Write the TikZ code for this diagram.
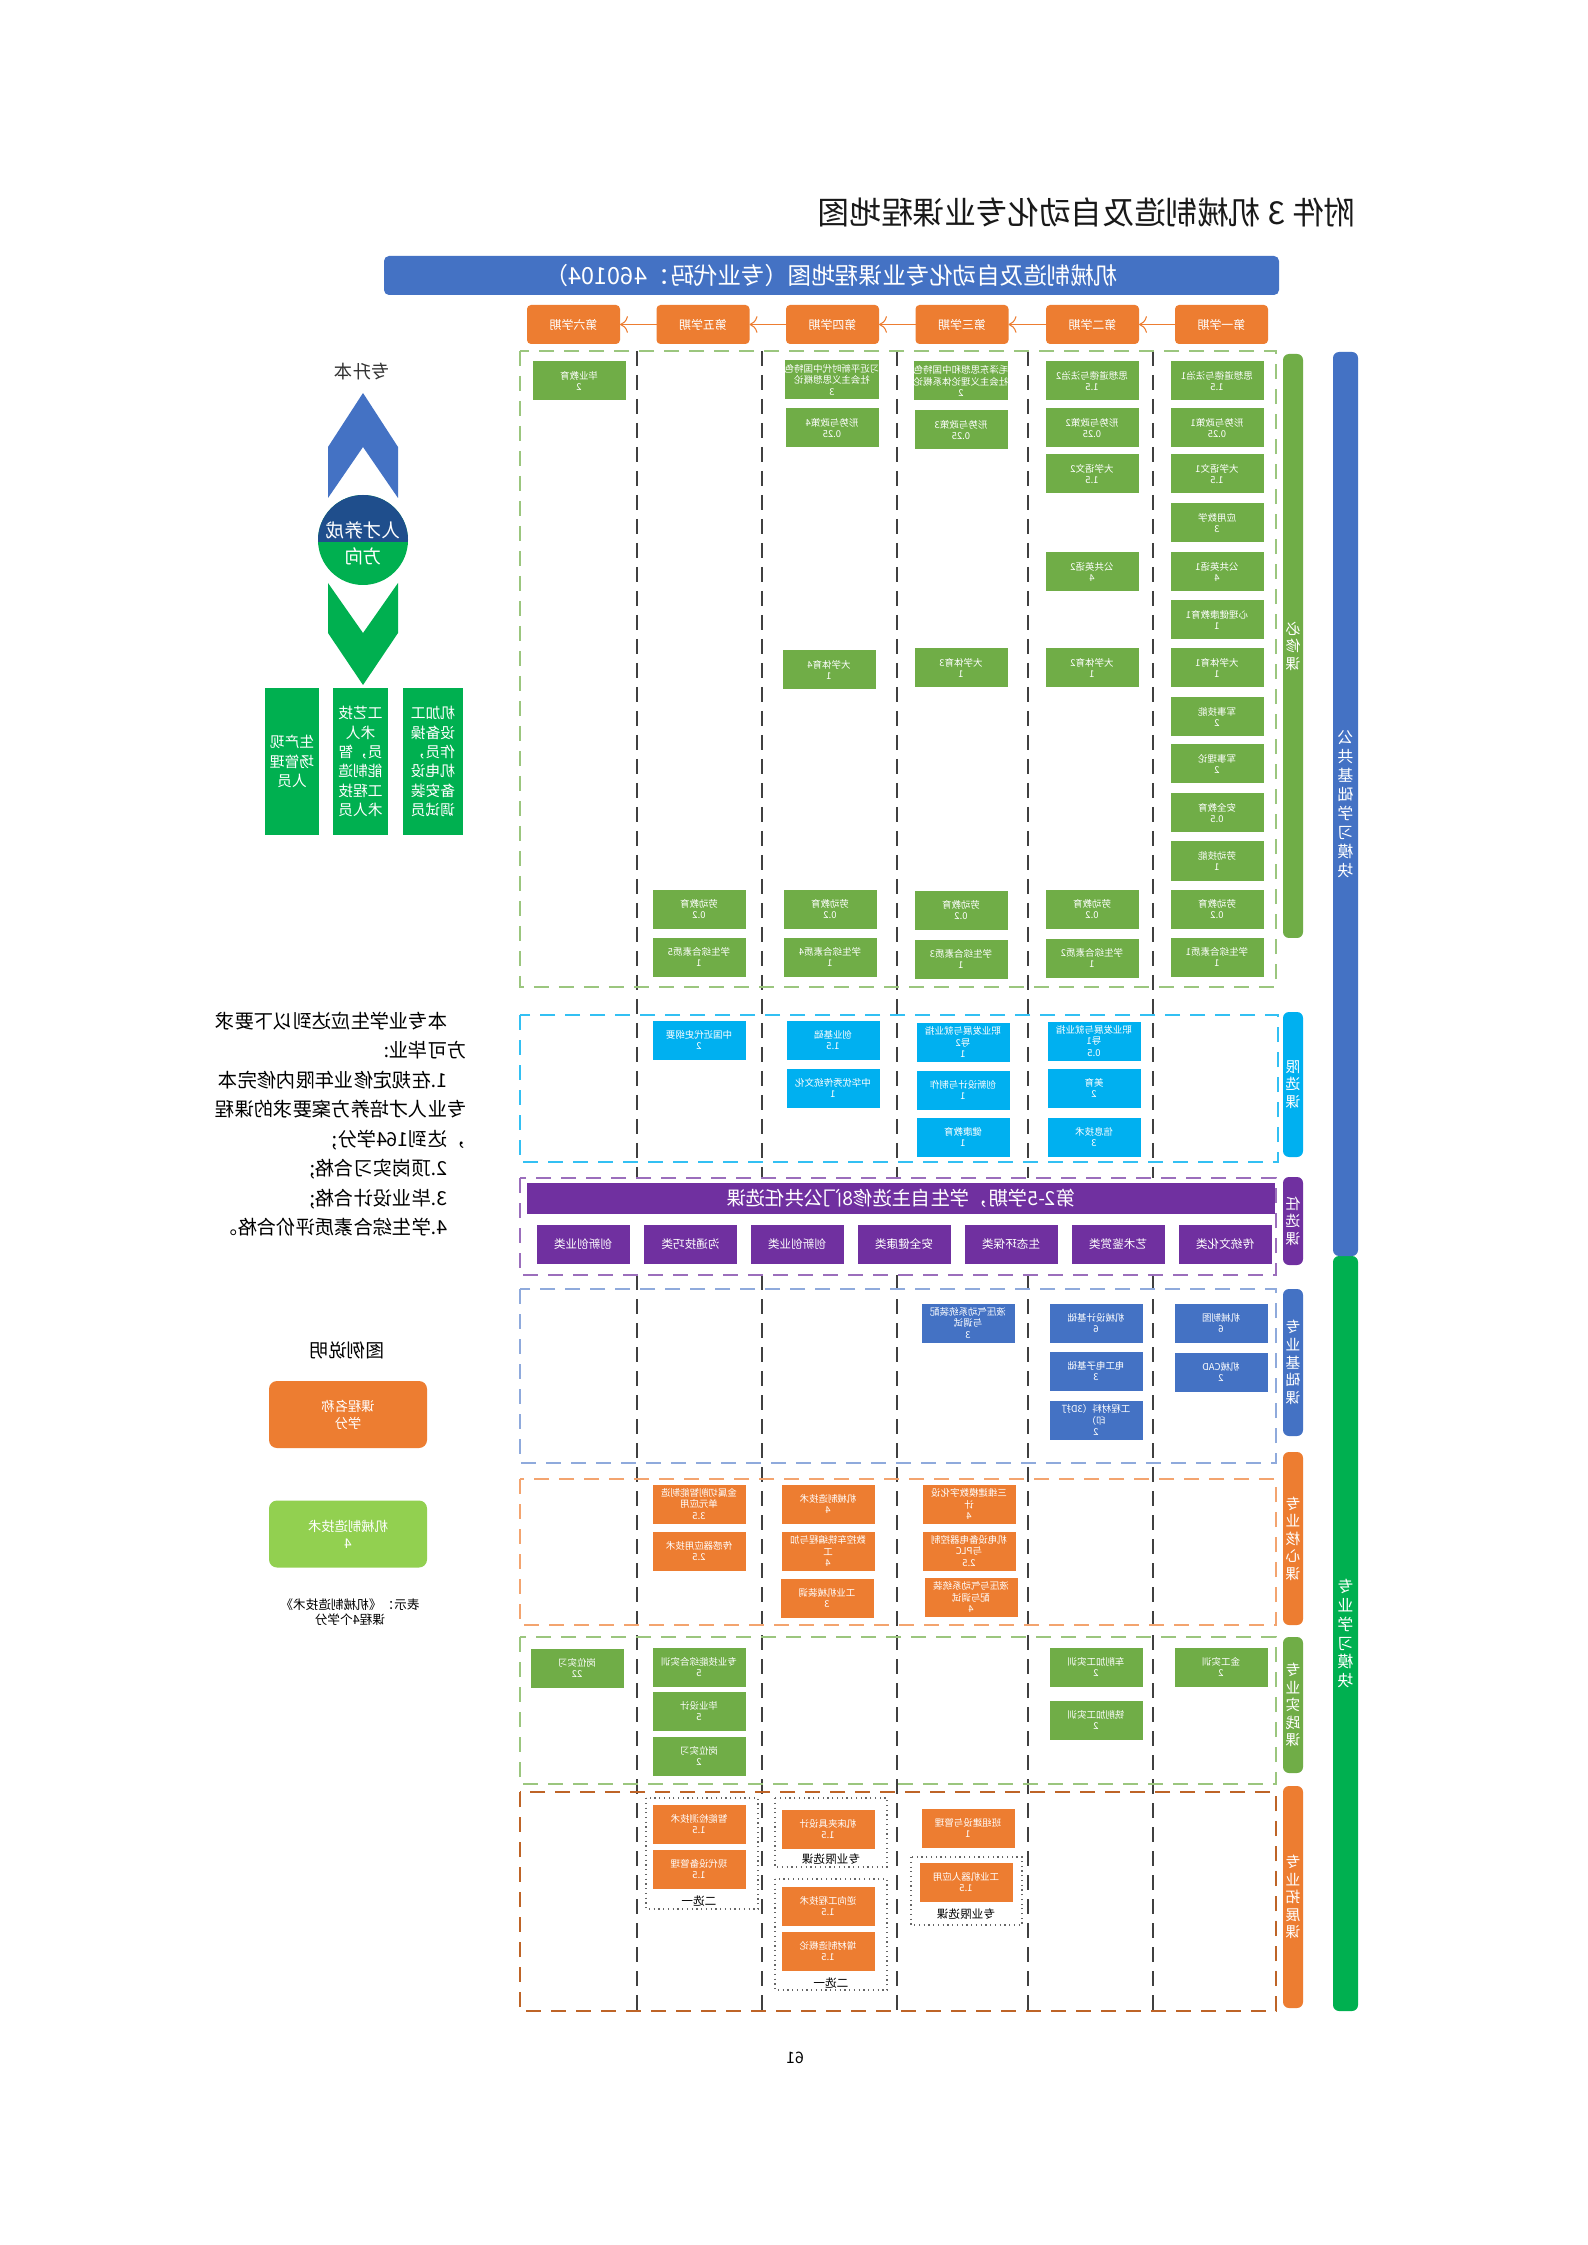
\documentclass[tikz,border=0pt]{standalone}
\usepackage{fontspec}
\setmainfont{Noto Sans CJK SC}
\usetikzlibrary{arrows.meta}

\definecolor{cgreen}{HTML}{70AD47}
\definecolor{lgreen}{HTML}{92D050}
\definecolor{mgreen}{HTML}{00B050}
\definecolor{ccyan}{HTML}{00B0F0}
\definecolor{cpurple}{HTML}{7030A0}
\definecolor{cblue}{HTML}{4472C4}
\definecolor{corange}{HTML}{ED7D31}
\definecolor{cnavy}{HTML}{1F4E8C}

\tikzset{
  every node/.style={xscale=-1, inner sep=0pt, outer sep=0pt},
  crs/.style={rectangle, minimum width=9.3mm, minimum height=3.9mm, align=center,
              text=white, font=\fontsize{2.7}{3.2}\selectfont},
  gcrs/.style={crs, fill=cgreen},
  ccrs/.style={crs, fill=ccyan},
  bcrs/.style={crs, fill=cblue},
  ocrs/.style={crs, fill=corange},
  pcrs/.style={crs, fill=cpurple, font=\fontsize{3.3}{4}\selectfont},
  term/.style={rectangle, rounded corners=0.4mm, fill=corange, text=white,
               minimum width=9.3mm, minimum height=3.9mm, font=\fontsize{3.4}{4}\selectfont},
  sidebar/.style={rectangle, rounded corners=0.6mm, minimum width=2mm, text=white,
                  align=center, font=\fontsize{4.2}{5}\selectfont},
  modbar/.style={rectangle, rounded corners=0.6mm, minimum width=2.5mm, text=white,
                 align=center, font=\fontsize{4.5}{5.4}\selectfont},
  secbox/.style={dash pattern=on 1.5mm off 1mm, line width=0.5pt},
  coldiv/.style={dash pattern=on 1.5mm off 0.9mm, line width=0.4pt, black!75},
  grpbox/.style={densely dotted, line width=0.35pt, black!60},
  grplbl/.style={font=\fontsize{3.3}{4}\selectfont, text=black},
  termarr/.style={->, corange, line width=0.3pt},
  pathbox/.style={rectangle, fill=mgreen, text=white, align=center,
                  minimum height=14.7mm, font=\fontsize{4.2}{5.5}\selectfont},
  legbox/.style={rectangle, rounded corners=0.8mm, minimum width=15.8mm, minimum height=6.7mm,
                 text=white, align=center, font=\fontsize{3.8}{4.8}\selectfont},
}

\begin{document}
\begin{tikzpicture}[x=0.1mm, y=-0.1mm]

    \fill[white] (0,0) rectangle (1587,2245);
    \useasboundingbox (0,0) rectangle (1587,2245);

    % Title 
    % -----
    \node[font=\fontsize{9}{11}\selectfont, text=black!90] (title) at (1087,212) {附件 3 机械制造及自动化专业课程地图};
    \node[rectangle, rounded corners=0.5mm, fill=cblue, text=white, minimum width=89.5mm, minimum height=3.9mm,
          font=\fontsize{6.7}{8}\selectfont] (banner) at (831.5,275.5) {机械制造及自动化专业课程地图（专业代码：460104）};

    % Terms 
    % -----
    \node[term] (s1) at (1221.5,324.5) {第一学期};
    \node[term] (s2) at (1092.5,324.5) {第二学期};
    \node[term] (s3) at ( 962  ,324.5) {第三学期};
    \node[term] (s4) at ( 832.5,324.5) {第四学期};
    \node[term] (s5) at ( 703  ,324.5) {第五学期};
    \node[term] (s6) at ( 573.5,324.5) {第六学期};

    \draw[termarr] (s1.east) -- (s2.west);
    \draw[termarr] (s2.east) -- (s3.west);
    \draw[termarr] (s3.east) -- (s4.west);
    \draw[termarr] (s4.east) -- (s5.west);
    \draw[termarr] (s5.east) -- (s6.west);

    % Grid 
    % ----
    \draw[coldiv] ( 637, 351) -- ( 637,1178);
    \draw[coldiv] ( 762, 351) -- ( 762,1178);
    \draw[coldiv] ( 897, 351) -- ( 897,1178);
    \draw[coldiv] (1028, 351) -- (1028,1178);
    \draw[coldiv] (1153, 351) -- (1153,1178);
    \draw[coldiv] ( 637,1275) -- ( 637,2011);
    \draw[coldiv] ( 762,1275) -- ( 762,2011);
    \draw[coldiv] ( 897,1275) -- ( 897,2011);
    \draw[coldiv] (1028,1275) -- (1028,2011);
    \draw[coldiv] (1153,1275) -- (1153,2011);

    \draw[secbox, cgreen!70]         (520, 351) rectangle (1276, 987);
    \draw[secbox, ccyan!80]          (520,1015) rectangle (1278,1162);
    \draw[secbox, cpurple!70]        (520,1178) rectangle (1276,1275);
    \draw[secbox, cblue!60]          (520,1289) rectangle (1276,1463);
    \draw[secbox, corange!70]        (520,1479) rectangle (1276,1625);
    \draw[secbox, cgreen!70]         (520,1637) rectangle (1276,1784);
    \draw[secbox, corange!80!black]  (520,1792) rectangle (1276,2011);

    % Side bars 
    % ---------
    \node[sidebar, fill=cgreen,  minimum height=58.4mm] (bxk) at (1293, 646)   {必\\修\\课};
    \node[sidebar, fill=ccyan,   minimum height=14.5mm] (xxk) at (1293,1084.5) {限\\选\\课};
    \node[sidebar, fill=cpurple, minimum height=8.8mm]  (rxk) at (1293,1221)   {任\\选\\课};
    \node[sidebar, fill=cblue,   minimum height=14.7mm] (jck) at (1293,1362.5) {专\\业\\基\\础\\课};
    \node[sidebar, fill=corange, minimum height=17.3mm] (hxk) at (1293,1538.5) {专\\业\\核\\心\\课};
    \node[sidebar, fill=cgreen,  minimum height=13.6mm] (sjk) at (1293,1705)   {专\\业\\实\\践\\课};
    \node[sidebar, fill=corange, minimum height=22.2mm] (tzk) at (1293,1897)   {专\\业\\拓\\展\\课};

    \node[modbar, fill=mgreen, minimum height=75.5mm] (zym) at (1345.5,1633.5) {专\\业\\学\\习\\模\\块};
    \node[modbar, fill=cblue,  minimum height=90.4mm] (ggm) at (1345.5, 804)   {公\\共\\基\\础\\学\\习\\模\\块};

    % Required courses 
    % ----------------
    \node[gcrs] (g1a) at (1217, 381) {思想道德与法治1\\1.5};
    \node[gcrs] (g1b) at (1217, 428) {形势与政策1\\0.25};
    \node[gcrs] (g1c) at (1217, 474) {大学语文1\\1.5};
    \node[gcrs] (g1d) at (1217, 523) {应用数学\\3};
    \node[gcrs] (g1e) at (1217, 572) {公共英语1\\4};
    \node[gcrs] (g1f) at (1217, 620) {心理健康教育1\\1};
    \node[gcrs] (g1g) at (1217, 668) {大学体育1\\1};
    \node[gcrs] (g1h) at (1217, 717) {军事技能\\2};
    \node[gcrs] (g1i) at (1217, 764) {军事理论\\2};
    \node[gcrs] (g1j) at (1217, 813) {安全教育\\0.5};
    \node[gcrs] (g1k) at (1217, 861) {劳动技能\\1};
    \node[gcrs] (g1l) at (1217, 909) {劳动教育\\0.2};
    \node[gcrs] (g1m) at (1217, 957) {学生综合素质1\\1};

    \node[gcrs] (g2a) at (1092, 381) {思想道德与法治2\\1.5};
    \node[gcrs] (g2b) at (1092, 428) {形势与政策2\\0.25};
    \node[gcrs] (g2c) at (1092, 474) {大学语文2\\1.5};
    \node[gcrs] (g2e) at (1092, 572) {公共英语2\\4};
    \node[gcrs] (g2g) at (1092, 668) {大学体育2\\1};
    \node[gcrs] (g2l) at (1092, 909) {劳动教育\\0.2};
    \node[gcrs] (g2m) at (1092, 958) {学生综合素质2\\1};

    \node[gcrs] (g3a) at ( 961, 381) {毛泽东思想和中国特色\\社会主义理论体系概论\\2};
    \node[gcrs] (g3b) at ( 961, 430) {形势与政策3\\0.25};
    \node[gcrs] (g3g) at ( 961, 668) {大学体育3\\1};
    \node[gcrs] (g3l) at ( 961, 910) {劳动教育\\0.2};
    \node[gcrs] (g3m) at ( 961, 959) {学生综合素质3\\1};

    \node[gcrs] (g4a) at ( 832, 380) {习近平新时代中国特色\\社会主义思想概论\\3};
    \node[gcrs] (g4b) at ( 832, 428) {形势与政策4\\0.25};
    \node[gcrs] (g4g) at ( 829, 670) {大学体育4\\1};
    \node[gcrs] (g4l) at ( 830, 909) {劳动教育\\0.2};
    \node[gcrs] (g4m) at ( 830, 957) {学生综合素质4\\1};

    \node[gcrs] (g5l) at ( 699, 909) {劳动教育\\0.2};
    \node[gcrs] (g5m) at ( 699, 957) {学生综合素质5\\1};

    \node[gcrs] (g6a) at ( 579, 381) {毕业教育\\2};

    % Limited electives 
    % -----------------
    \node[ccrs] (c2a) at (1094,1041) {职业发展与就业指\\导1\\0.5};
    \node[ccrs] (c2b) at (1094,1088) {美育\\2};
    \node[ccrs] (c2c) at (1094,1137) {信息技术\\3};
    \node[ccrs] (c3a) at ( 963,1042) {职业发展与就业指\\导2\\1};
    \node[ccrs] (c3b) at ( 963,1090) {创新设计与制作\\1};
    \node[ccrs] (c3c) at ( 963,1137) {健康教育\\1};
    \node[ccrs] (c4a) at ( 833,1040) {创业基础\\1.5};
    \node[ccrs] (c4b) at ( 833,1088) {中华优秀传统文化\\1};
    \node[ccrs] (c5a) at ( 699,1040) {中国近代史纲要\\2};

    % Free electives 
    % --------------
    \node[rectangle, fill=cpurple, text=white, minimum width=74.8mm, minimum height=3.1mm,
          font=\fontsize{5.5}{6.5}\selectfont] (ptitle) at (901,1198.5) {第2-5学期，学生自主选修8门公共任选课};
    \node[pcrs] (p1) at (1225,1244.5) {传统文化类};
    \node[pcrs] (p2) at (1118,1244.5) {艺术鉴赏类};
    \node[pcrs] (p3) at (1011,1244.5) {生态环保类};
    \node[pcrs] (p4) at ( 904,1244.5) {安全健康类};
    \node[pcrs] (p5) at ( 797,1244.5) {创新创业类};
    \node[pcrs] (p6) at ( 690.5,1244.5) {沟通技巧类};
    \node[pcrs] (p7) at ( 583,1244.5) {创新创业类};

    % Basic courses 
    % -------------
    \node[bcrs] (b1a) at (1221,1323) {机械制图\\6};
    \node[bcrs] (b1b) at (1221,1372) {机械CAD\\2};
    \node[bcrs] (b2a) at (1096,1323) {机械设计基础\\6};
    \node[bcrs] (b2b) at (1096,1371) {电工电子基础\\3};
    \node[bcrs] (b2c) at (1096,1420) {工程材料（3D打\\印）\\2};
    \node[bcrs] (b3a) at ( 968,1323) {液压气动系统装配\\与调试\\3};

    % Core courses 
    % ------------
    \node[ocrs] (o3a) at ( 969,1504) {三维建模数字化设\\计\\4};
    \node[ocrs] (o3b) at ( 969,1551) {机电设备电器控制\\与PLC\\2.5};
    \node[ocrs] (o3c) at ( 971,1597) {液压与气动系统装\\配与调试\\4};
    \node[ocrs] (o4a) at ( 828,1504) {机械制造技术\\4};
    \node[ocrs] (o4b) at ( 828,1551) {数控车铣编程与加\\工\\4};
    \node[ocrs] (o4c) at ( 827,1598) {工业机械装调\\3};
    \node[ocrs] (o5a) at ( 699,1504) {金属切削智能制造\\单元应用\\3.5};
    \node[ocrs] (o5b) at ( 699,1551) {传感器应用技术\\2.5};

    % Practice courses 
    % ----------------
    \node[gcrs] (t1a) at (1221,1667) {金工实训\\2};
    \node[gcrs] (t2a) at (1096,1667) {车削加工实训\\2};
    \node[gcrs] (t2b) at (1096,1720) {铣削加工实训\\2};
    \node[gcrs] (t5a) at ( 699,1667) {专业技能综合实训\\5};
    \node[gcrs] (t5b) at ( 699,1711) {毕业设计\\5};
    \node[gcrs] (t5c) at ( 699,1756) {岗位实习\\2};
    \node[gcrs] (t6a) at ( 577,1668) {岗位实习\\22};

    % Extension courses 
    % -----------------
    \draw[grpbox] (646,1798) rectangle (758,1909);
    \draw[grpbox] (775,1798) rectangle (887,1867);
    \draw[grpbox] (775,1879) rectangle (887,1990);
    \draw[grpbox] (911,1857) rectangle (1022,1925);

    \node[ocrs] (e5a) at ( 699,1824) {智能检测技术\\1.5};
    \node[ocrs] (e5b) at ( 699,1869) {现代设备管理\\1.5};
    \node[grplbl] (e5l) at ( 699,1901) {二选一};
    \node[ocrs] (e4a) at ( 828,1829) {机床夹具设计\\1.5};
    \node[grplbl] (e4l) at ( 831,1859) {专业限选课};
    \node[ocrs] (e4b) at ( 828,1906) {逆向工程技术\\1.5};
    \node[ocrs] (e4c) at ( 828,1951) {增材制造概论\\1.5};
    \node[grplbl] (e4m) at ( 831,1983) {二选一};
    \node[ocrs] (e3a) at ( 968,1828) {班组建设与管理\\1};
    \node[ocrs] (e3b) at ( 966,1882) {工业机器人应用\\1.5};
    \node[grplbl] (e3l) at ( 966,1914) {专业限选课};

    % Talent paths 
    % ------------
    \node[font=\fontsize{5.2}{6}\selectfont, text=black!80] (zsb) at (362,372) {专升本};
    \fill[cblue]  (363,393) -- (398,447) -- (398,498) -- (363,447) -- (328,498) -- (328,447) -- cycle;
    \fill[mgreen] (328,583) -- (363,633) -- (398,583) -- (398,633) -- (363,685) -- (328,633) -- cycle;
    \fill[mgreen] (363,540) circle[radius=45];
    \begin{scope}
      \clip (363,540) circle[radius=45];
      \fill[cnavy] (315,492) rectangle (411,542);
    \end{scope}
    \node[font=\fontsize{5.3}{6}\selectfont, text=white] (rcyc) at (363,530) {人才养成};
    \node[font=\fontsize{5.3}{6}\selectfont, text=white] (fx)   at (363,556) {方向};

    \node[pathbox, minimum width=6mm]   (gw3) at (433,761.5) {机加工\\设备操\\作员，\\机电设\\备安装\\调试员};
    \node[pathbox, minimum width=5.5mm] (gw2) at (360.5,761.5) {工艺技\\术人\\员，智\\能制造\\工程技\\术人员};
    \node[pathbox, minimum width=5.4mm] (gw1) at (292,761.5) {生产现\\场管理\\人员};

    % Requirements 
    % ------------
    \node[font=\fontsize{5.5}{8.4}\selectfont, align=left, text=black] (req) at (341,1124)
      {\hspace*{1em}本专业学生应达到以下要求\\方可毕业:\\\hspace*{1em}1.在规定修业年限内修完本\\专业人才培养方案要求的课程\\，达到164学分;\\\hspace*{1em}2.顶岗实习合格;\\\hspace*{1em}3.毕业设计合格;\\\hspace*{1em}4.学生综合素质评价合格。};

    % Legend 
    % ------
    \node[font=\fontsize{5.3}{6}\selectfont, text=black] (lt) at (347,1350) {图例说明};
    \node[legbox, fill=corange] (lo) at (348,1414.5) {课程名称\\学分};
    \node[legbox, fill=lgreen]  (lg) at (348,1534)   {机械制造技术\\4};
    \node[font=\fontsize{3.6}{4.4}\selectfont, align=center, text=black] (ld) at (350,1612) {表示：《机械制造技术》\\课程4个学分};

    \node[font=\fontsize{4.5}{5}\selectfont, text=black] (pn) at (795,2058) {61};

\end{tikzpicture}
\end{document}
